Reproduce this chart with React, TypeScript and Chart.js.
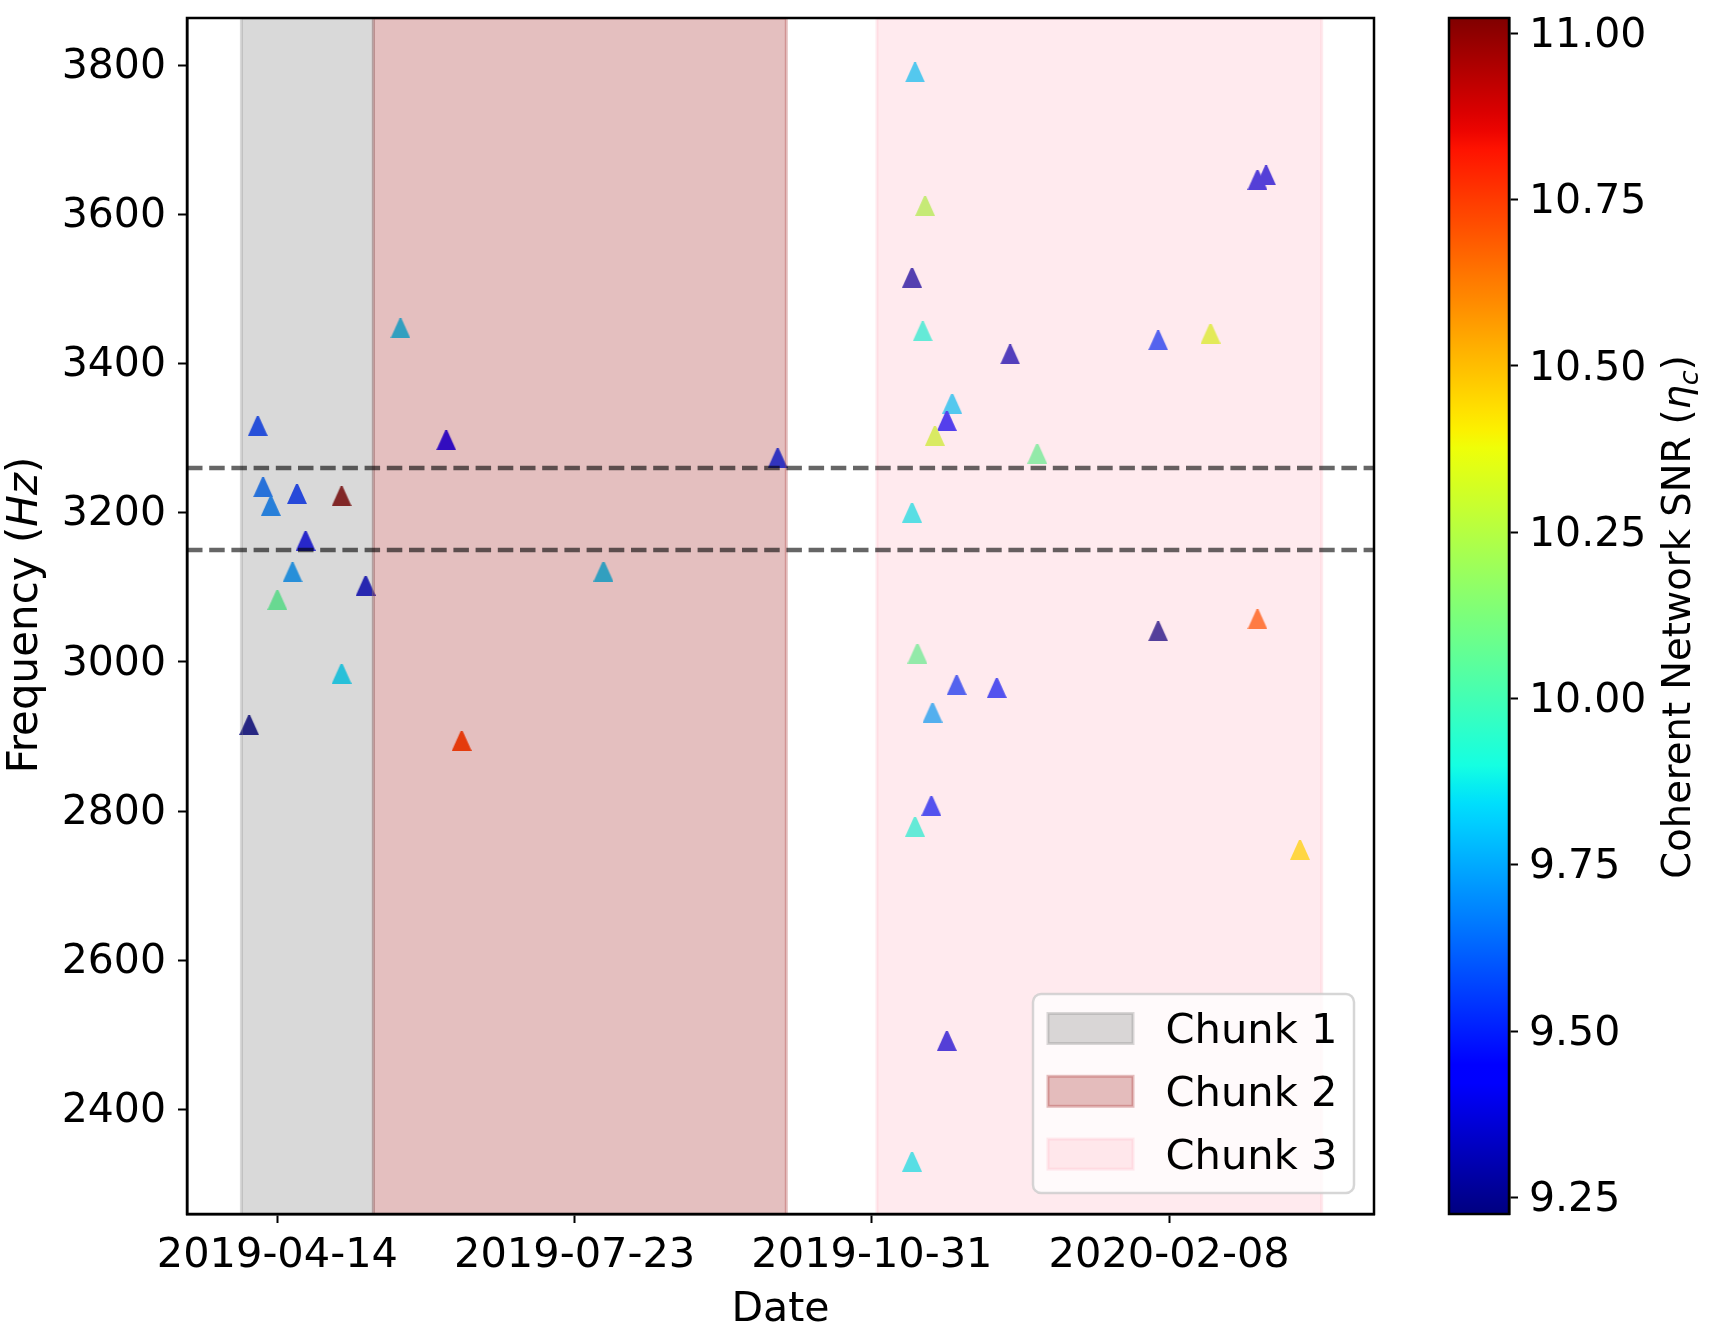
import React, { useEffect, useRef } from "react";
import { Chart, registerables } from "chart.js";

Chart.register(...registerables);

const FONT = '"DejaVu Sans", sans-serif';
const FONT_SIZE = 41;

// days after 2019-04-14
const eventDays = [
  -9.5, -6.6, -4.8, -2.2, 0, 5.1, 6.6, 9.5, 21.6, 21.6, 29.7, 41.4, 56.8, 62,
  109.7, 168.3, 214.5, 217.9, 213.5, 217.1, 246.5, 227, 225.2, 221.2, 255.6,
  213.5, 329.7, 332.6, 296.3, 313.9, 296.3, 329.7, 215.3, 228.5, 242, 220.4,
  220, 214.5, 344, 225.2, 213.5,
];
const eventFrequencies = [
  2915, 3316, 3234, 3209, 3083, 3120, 3225, 3162, 3222, 2984, 3102, 3447, 3297,
  2894, 3121, 3273, 3790, 3611, 3515, 3443, 3412, 3346, 3323, 3303, 3279, 3200,
  3646, 3652, 3431, 3440, 3041, 3057, 3011, 2969, 2965, 2932, 2807, 2779, 2748,
  2492, 2330,
];
const eventSnr = [
  9.23, 9.556, 9.637, 9.674, 10.06, 9.715, 9.536, 9.39, 11.02, 9.837, 9.333,
  9.818, 9.43, 10.735, 9.818, 9.55, 9.81, 10.225, 9.28, 9.91, 9.308, 9.81, 9.42,
  10.29, 10.06, 9.87, 9.37, 9.37, 9.545, 10.32, 9.23, 10.69, 10.06, 9.545, 9.5,
  9.746, 9.5, 9.91, 10.43, 9.37, 9.867,
];

const chunkLabels = ["Chunk 1", "Chunk 2", "Chunk 3"];
const chunkStarts = [-12.1, 32.3, 201.7];
const chunkEnds = [32.3, 171.2, 351.3];
const chunkColors = ["128, 128, 128", "165, 42, 42", "255, 192, 203"];
const chunkAlphas = [0.3, 0.3, 0.33];

const bandFrequencies = [3260, 3150];

const dateTickDays = [0, 100, 200, 300];
const dateTickLabels = ["2019-04-14", "2019-07-23", "2019-10-31", "2020-02-08"];
const frequencyTicks = [2400, 2600, 2800, 3000, 3200, 3400, 3600, 3800];
const snrTicks = [9.25, 9.5, 9.75, 10, 10.25, 10.5, 10.75, 11];

const X_MIN = -30.4;
const X_MAX = 368.9;
const Y_MIN = 2260;
const Y_MAX = 3863;
const SNR_MIN = 9.225;
const SNR_MAX = 11.023;

// matplotlib jet segments
const jetRed = [[0, 0], [0.35, 0], [0.66, 1], [0.89, 1], [1, 0.5]];
const jetGreen = [[0, 0], [0.125, 0], [0.375, 1], [0.64, 1], [0.91, 0], [1, 0]];
const jetBlue = [[0, 0.5], [0.11, 1], [0.34, 1], [0.65, 0], [1, 0]];

const channel = (segments: number[][], t: number) => {
  for (let i = 1; i < segments.length; i++) {
    const [x0, y0] = segments[i - 1];
    const [x1, y1] = segments[i];
    if (t <= x1) return y0 + ((y1 - y0) * (t - x0)) / (x1 - x0);
  }
  return segments[segments.length - 1][1];
};

const jet = (t: number) => {
  const c = Math.max(0, Math.min(1, t));
  const r = Math.round(channel(jetRed, c) * 255);
  const g = Math.round(channel(jetGreen, c) * 255);
  const b = Math.round(channel(jetBlue, c) * 255);
  return `rgb(${r}, ${g}, ${b})`;
};

const triangleMarker = (color: string) => {
  const size = 20;
  const canvas = document.createElement("canvas");
  canvas.width = size;
  canvas.height = size;
  const ctx: any = canvas.getContext("2d");
  ctx.fillStyle = color;
  ctx.beginPath();
  ctx.moveTo(size / 2 - 1, 0);
  ctx.lineTo(size / 2 + 1, 0);
  ctx.lineTo(size, size);
  ctx.lineTo(0, size);
  ctx.closePath();
  ctx.fill();
  return canvas;
};

const drawRuns = (ctx: any, runs: any[], cx: number, cy: number, size: number) => {
  const fontOf = (run: any) =>
    `${run.italic ? "italic " : ""}${run.sub ? size * 0.7 : size}px ${FONT}`;
  let total = 0;
  runs.forEach((run) => {
    ctx.font = fontOf(run);
    total += ctx.measureText(run.text).width;
  });
  ctx.save();
  ctx.translate(cx, cy);
  ctx.rotate(-Math.PI / 2);
  ctx.fillStyle = "#000";
  ctx.textAlign = "left";
  ctx.textBaseline = "alphabetic";
  let x = -total / 2;
  runs.forEach((run) => {
    ctx.font = fontOf(run);
    ctx.fillText(run.text, x, size * 0.36 + (run.sub ? size * 0.2 : 0));
    x += ctx.measureText(run.text).width;
  });
  ctx.restore();
};

const framePlugin = {
  id: "frame",
  afterDraw(chart: any) {
    const { ctx, chartArea } = chart;
    ctx.save();
    ctx.strokeStyle = "#000";
    ctx.lineWidth = 2.5;
    ctx.strokeRect(
      chartArea.left,
      chartArea.top,
      chartArea.right - chartArea.left,
      chartArea.bottom - chartArea.top
    );
    ctx.restore();
  },
};

const frequencyLabelPlugin = {
  id: "frequencyLabel",
  afterDraw(chart: any) {
    drawRuns(
      chart.ctx,
      [{ text: "Frequency (" }, { text: "Hz", italic: true }, { text: ")" }],
      22,
      615,
      42
    );
  },
};

const snrLabelPlugin = {
  id: "snrLabel",
  afterDraw(chart: any) {
    drawRuns(
      chart.ctx,
      [
        { text: "Coherent Network SNR (" },
        { text: "η", italic: true },
        { text: "c", italic: true, sub: true },
        { text: ")" },
      ],
      246,
      617,
      38.5
    );
  },
};

// matplotlib style legend box, lower right of the axes
const legendPlugin = {
  id: "chunkLegend",
  afterDatasetsDraw(chart: any) {
    const { ctx } = chart;
    const left = 1033;
    const top = 994;
    const width = 321;
    const height = 199;
    ctx.save();
    ctx.beginPath();
    ctx.roundRect(left, top, width, height, 8);
    ctx.fillStyle = "rgba(255, 255, 255, 0.8)";
    ctx.fill();
    ctx.lineWidth = 2.5;
    ctx.strokeStyle = "rgba(204, 204, 204, 0.8)";
    ctx.stroke();
    chunkLabels.forEach((label, i) => {
      const rowY = 1028.5 + i * 62.8;
      const dataset = chart.data.datasets[i];
      ctx.fillStyle = dataset.backgroundColor;
      ctx.strokeStyle = dataset.borderColor;
      ctx.lineWidth = 3;
      ctx.fillRect(1048, rowY - 15, 85, 30);
      ctx.strokeRect(1048, rowY - 15, 85, 30);
      ctx.fillStyle = "#000";
      ctx.font = `41.6px ${FONT}`;
      ctx.textAlign = "left";
      ctx.textBaseline = "middle";
      ctx.fillText(label, 1165.5, rowY + 4);
    });
    ctx.restore();
  },
};

const App = () => {
  const mainRef = useRef<HTMLCanvasElement>(null);
  const barRef = useRef<HTMLCanvasElement>(null);

  useEffect(() => {
    // the spans sit on top of the markers, which is what washes their colours
    const chunkDatasets = chunkLabels.map((label, i) => ({
      type: "scatter",
      label,
      data: [
        { x: chunkStarts[i], y: Y_MIN },
        { x: chunkStarts[i], y: Y_MAX },
        { x: chunkEnds[i], y: Y_MAX },
        { x: chunkEnds[i], y: Y_MIN },
      ],
      showLine: true,
      fill: "start",
      tension: 0,
      pointRadius: 0,
      borderWidth: 3,
      borderColor: `rgba(${chunkColors[i]}, ${chunkAlphas[i]})`,
      backgroundColor: `rgba(${chunkColors[i]}, ${chunkAlphas[i]})`,
      order: 3,
    }));

    const bandDatasets = bandFrequencies.map((freq) => ({
      type: "scatter",
      label: `${freq} Hz`,
      data: [
        { x: X_MIN, y: freq },
        { x: X_MAX, y: freq },
      ],
      showLine: true,
      fill: false,
      pointRadius: 0,
      borderWidth: 4.5,
      borderColor: "rgba(0, 0, 0, 0.6)",
      borderDash: [15.5, 6.7],
      order: 1,
    }));

    const eventDataset = {
      type: "scatter",
      label: "Events",
      data: eventDays.map((x, i) => ({ x, y: eventFrequencies[i] })),
      pointStyle: eventSnr.map((snr) =>
        triangleMarker(jet((snr - SNR_MIN) / (SNR_MAX - SNR_MIN)))
      ),
      pointRadius: 10,
      order: 4,
    };

    const mainChart = new Chart(mainRef.current as any, {
      type: "scatter",
      data: { datasets: [...chunkDatasets, eventDataset, ...bandDatasets] as any },
      options: {
        animation: false,
        responsive: false,
        devicePixelRatio: 1,
        layout: { padding: { top: 18, right: 56, left: 0, bottom: 0 } },
        plugins: { legend: { display: false }, tooltip: { enabled: false } },
        scales: {
          x: {
            type: "linear",
            min: X_MIN,
            max: X_MAX,
            afterBuildTicks: (axis: any) => {
              axis.ticks = dateTickDays.map((value) => ({ value }));
            },
            afterFit: (axis: any) => {
              axis.height = 117;
              axis.paddingLeft = 0;
              axis.paddingRight = 0;
            },
            ticks: {
              autoSkip: false,
              maxRotation: 0,
              color: "#000",
              padding: 8,
              font: { family: FONT, size: 41.5 },
              callback: (value: any) => dateTickLabels[dateTickDays.indexOf(value)],
            },
            grid: {
              drawOnChartArea: false,
              tickLength: 9,
              tickWidth: 2,
              tickColor: "#000",
            },
            border: { color: "#000", width: 2.5 },
            title: {
              display: true,
              text: "Date",
              color: "#000",
              padding: 0,
              font: { family: FONT, size: FONT_SIZE, lineHeight: 1 },
            },
          },
          y: {
            type: "linear",
            min: Y_MIN,
            max: Y_MAX,
            afterBuildTicks: (axis: any) => {
              axis.ticks = frequencyTicks.map((value) => ({ value }));
            },
            afterFit: (axis: any) => {
              axis.width = 187;
              axis.paddingTop = 0;
              axis.paddingBottom = 0;
            },
            ticks: {
              autoSkip: false,
              color: "#000",
              padding: 12,
              labelOffset: 2,
              font: { family: FONT, size: FONT_SIZE },
              callback: (value: any) => String(value),
            },
            grid: {
              drawOnChartArea: false,
              tickLength: 9,
              tickWidth: 2,
              tickColor: "#000",
            },
            border: { color: "#000", width: 2.5 },
          },
        },
      } as any,
      plugins: [framePlugin, frequencyLabelPlugin, legendPlugin],
    });

    const barChart = new Chart(barRef.current as any, {
      type: "bar",
      data: {
        labels: ["SNR"],
        datasets: [
          {
            label: "Coherent Network SNR",
            data: [[SNR_MIN, SNR_MAX]],
            barPercentage: 1,
            categoryPercentage: 1,
            backgroundColor: (context: any) => {
              const { ctx, chartArea } = context.chart;
              if (!chartArea) return "#000";
              const gradient = ctx.createLinearGradient(0, chartArea.bottom, 0, chartArea.top);
              for (let i = 0; i <= 64; i++) gradient.addColorStop(i / 64, jet(i / 64));
              return gradient;
            },
          },
        ] as any,
      },
      options: {
        animation: false,
        responsive: false,
        devicePixelRatio: 1,
        layout: { padding: { top: 18, bottom: 117, left: 19, right: 0 } },
        plugins: { legend: { display: false }, tooltip: { enabled: false } },
        scales: {
          x: { display: false },
          y: {
            position: "right",
            min: SNR_MIN,
            max: SNR_MAX,
            afterBuildTicks: (axis: any) => {
              axis.ticks = snrTicks.map((value) => ({ value }));
            },
            afterFit: (axis: any) => {
              axis.width = 201;
              axis.paddingTop = 0;
              axis.paddingBottom = 0;
            },
            ticks: {
              autoSkip: false,
              color: "#000",
              padding: 11,
              labelOffset: 3,
              font: { family: FONT, size: FONT_SIZE },
              callback: (value: any) => Number(value).toFixed(2),
            },
            grid: {
              drawOnChartArea: false,
              tickLength: 9,
              tickWidth: 2,
              tickColor: "#000",
            },
            border: { color: "#000", width: 2.5 },
          },
        },
      } as any,
      plugins: [framePlugin, snrLabelPlugin],
    });

    return () => {
      mainChart.destroy();
      barChart.destroy();
    };
  }, []);

  return (
    <div
      style={{
        position: "absolute",
        left: 0,
        top: 0,
        width: 1710,
        height: 1331,
        background: "#fff",
        overflow: "hidden",
      }}
    >
      <canvas
        ref={mainRef}
        width={1430}
        height={1331}
        style={{ position: "absolute", left: 0, top: 0 }}
      />
      <canvas
        ref={barRef}
        width={280}
        height={1331}
        style={{ position: "absolute", left: 1430, top: 0 }}
      />
    </div>
  );
};

export default App;
